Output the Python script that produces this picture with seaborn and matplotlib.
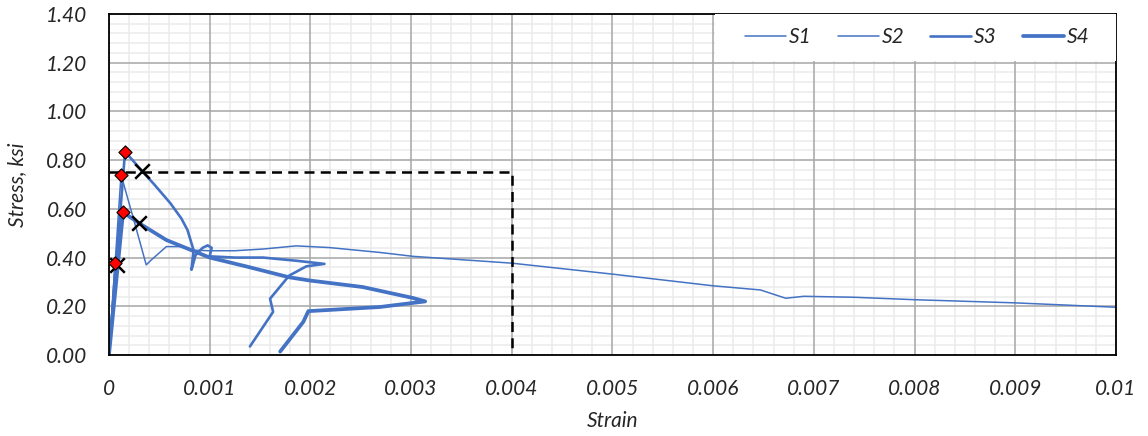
import matplotlib
matplotlib.use("Agg")
import matplotlib.pyplot as plt
import matplotlib.ticker as mticker
from matplotlib.patches import Rectangle
import seaborn as sns

# strain / stress traces
s1_strain = [0, 0.00012, 0.00025, 0.00037, 0.00042, 0.00057, 0.00074, 0.00085, 0.001,
             0.00125, 0.00153, 0.00186, 0.00219, 0.00269, 0.00302, 0.004, 0.005, 0.006,
             0.00647, 0.00672, 0.0069, 0.0074, 0.008, 0.009, 0.01]
s1_stress = [0, 0.74, 0.55, 0.37, 0.39, 0.445, 0.445, 0.43, 0.428,
             0.428, 0.435, 0.448, 0.441, 0.421, 0.405, 0.377, 0.332, 0.284,
             0.267, 0.233, 0.241, 0.237, 0.227, 0.214, 0.196]

s2_strain = [0, 0.00006, 0.00008, 0.0001]
s2_stress = [0, 0.376, 0.37, 0.36]

s3_strain = [0, 0.00016, 0.000325, 0.00045, 0.00061, 0.00072, 0.00078, 0.00084, 0.00082,
             0.00086, 0.00093, 0.00098, 0.00102, 0.001, 0.00125, 0.00153, 0.00186,
             0.00214, 0.00196, 0.00179, 0.0016, 0.00163, 0.0014]
s3_stress = [0, 0.835, 0.757, 0.70, 0.623, 0.56, 0.513, 0.431, 0.35,
             0.41, 0.44, 0.45, 0.44, 0.405, 0.40, 0.40, 0.387,
             0.374, 0.364, 0.326, 0.231, 0.177, 0.035]

s4_strain = [0, 0.00014, 0.0003, 0.00057, 0.001, 0.00136, 0.00179, 0.00199, 0.00252,
             0.00302, 0.00314, 0.00269, 0.00198, 0.00193, 0.0017]
s4_stress = [0, 0.586, 0.541, 0.472, 0.40, 0.364, 0.319, 0.306, 0.279,
             0.234, 0.22, 0.197, 0.18, 0.136, 0.014]

series = {
    "S1": (s1_strain, s1_stress, 1.1),
    "S2": (s2_strain, s2_stress, 1.1),
    "S3": (s3_strain, s3_stress, 1.9),
    "S4": (s4_strain, s4_stress, 2.7),
}

peak_strain = [0.00012, 0.00006, 0.00016, 0.00014]
peak_stress = [0.74, 0.376, 0.835, 0.586]
post_strain = [0.000325, 0.0003, 0.000076]
post_stress = [0.757, 0.541, 0.37]

limit_strain = 0.004
limit_stress = 0.75

blue = "#4472C4"

sns.set_style("white")
plt.rcParams["font.family"] = ["Lato", "DejaVu Sans"]
plt.rcParams["font.style"] = "italic"

fig = plt.figure(figsize=(11.48, 4.36), dpi=100)
ax = fig.add_axes([0.0949, 0.1858, 0.8772, 0.7821])

for name, (x, y, lw) in series.items():
    sns.lineplot(x=x, y=y, ax=ax, sort=False, estimator=None, color=blue,
                 linewidth=lw, label=name, zorder=3)

ax.plot([0, limit_strain, limit_strain], [limit_stress, limit_stress, 0],
        color="black", linestyle=(0, (4, 2.5)), linewidth=1.8, zorder=4)

sns.scatterplot(x=peak_strain, y=peak_stress, ax=ax, marker="D", s=45,
                color="red", edgecolor="black", linewidth=0.8, zorder=6)
sns.scatterplot(x=post_strain, y=post_stress, ax=ax, marker="x", s=110,
                color="black", linewidth=1.8, zorder=5)

ax.set_xlim(0, 0.01)
ax.set_ylim(0, 1.4)
ax.xaxis.set_major_locator(mticker.MultipleLocator(0.001))
ax.xaxis.set_minor_locator(mticker.MultipleLocator(0.0002))
ax.yaxis.set_major_locator(mticker.MultipleLocator(0.2))
ax.yaxis.set_minor_locator(mticker.MultipleLocator(0.04))
ax.xaxis.set_major_formatter(mticker.FuncFormatter(lambda v, p: "0" if abs(v) < 1e-12 else f"{v:g}"))
ax.yaxis.set_major_formatter(mticker.FormatStrFormatter("%.2f"))

# light minor grid, then darker major grid on top of it
ax.grid(which="minor", color="#ebebeb", linewidth=1.1, zorder=0)
ax.grid(which="major", visible=False)
for xv in ax.get_xticks():
    ax.axvline(xv, color="#a6a6a6", linewidth=1.1, zorder=1)
for yv in ax.get_yticks():
    ax.axhline(yv, color="#a6a6a6", linewidth=1.1, zorder=1)
ax.set_axisbelow(True)
ax.set_xlim(0, 0.01)
ax.set_ylim(0, 1.4)

for s in ax.spines.values():
    s.set_color("black")
    s.set_linewidth(1.3)
    s.set_visible(True)
    s.set_zorder(7)

ax.tick_params(which="major", direction="inout", length=8, width=1.3, color="black",
               labelsize=15)
ax.tick_params(axis="x", which="major", pad=13)
ax.tick_params(axis="y", which="major", pad=12)
ax.tick_params(which="minor", direction="out", length=4, width=1.2, color="black")
ax.tick_params(axis="x", which="both", top=False)
ax.tick_params(axis="y", which="both", right=False)

ax.set_xlabel("Strain", fontsize=15, labelpad=9)
ax.set_ylabel("Stress, ksi", fontsize=15, labelpad=13)

# white legend area covering the grid, as in the source chart
ax.add_patch(Rectangle((0.602, 0.862), 0.398, 0.138, transform=ax.transAxes,
                       facecolor="white", edgecolor="none", zorder=8))

leg = ax.legend(loc="upper right", bbox_to_anchor=(0.982, 0.986), ncol=4, frameon=False,
                fontsize=15, handlelength=1.95, columnspacing=1.25, handletextpad=0.15,
                borderaxespad=0, borderpad=0.4)
leg.set_zorder(10)

fig.savefig("out.png", dpi=100)
